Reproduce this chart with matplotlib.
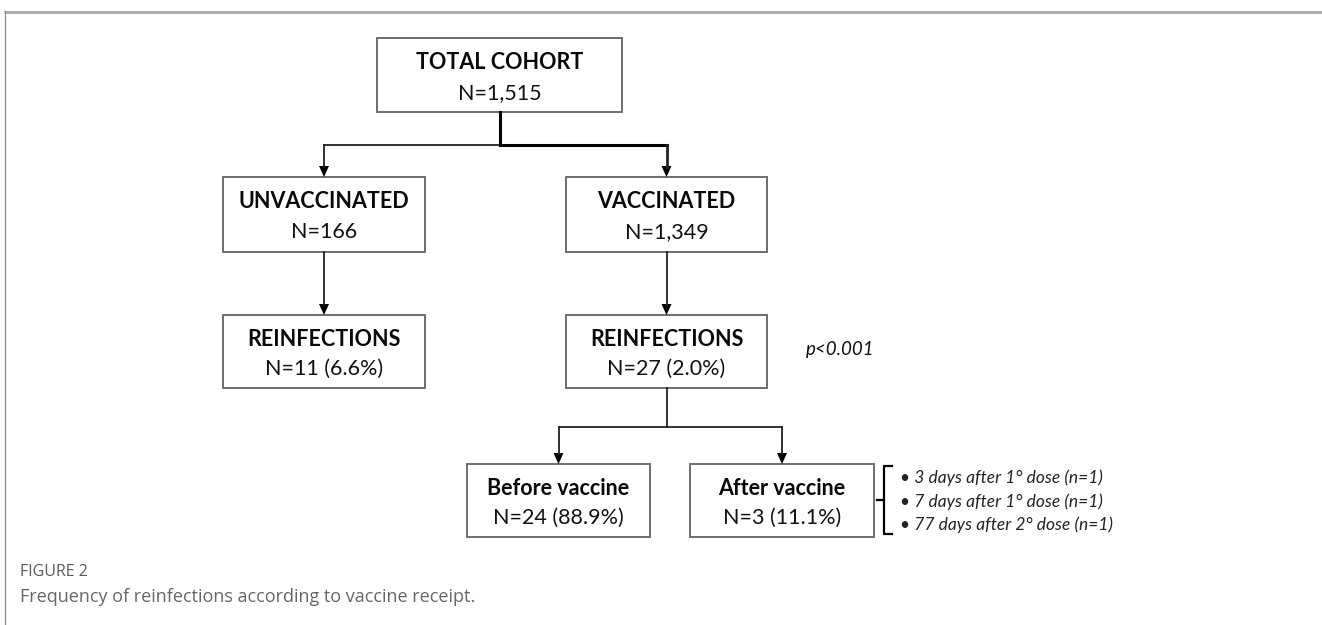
import matplotlib
matplotlib.use('Agg')
import matplotlib.pyplot as plt
from matplotlib.patches import Rectangle, Polygon

# box contents
titles = ['TOTAL COHORT', 'UNVACCINATED', 'VACCINATED', 'REINFECTIONS', 'REINFECTIONS',
          'Before vaccine', 'After vaccine']
counts = ['N=1,515', 'N=166', 'N=1,349', 'N=11 (6.6%)', 'N=27 (2.0%)',
          'N=24 (88.9%)', 'N=3 (11.1%)']
p_value = 'p<0.001'
after_details = ['3 days after 1° dose (n=1)', '7 days after 1° dose (n=1)',
                 '77 days after 2° dose (n=1)']
fig_label = 'FIGURE 2'
caption = 'Frequency of reinfections according to vaccine receipt.'

# layout in pixels: x0, x1, y0, y1
boxes = [
    (377, 622, 38, 112),
    (223, 425, 177, 252),
    (566, 767, 177, 252),
    (223, 425, 315, 388),
    (566, 767, 315, 388),
    (467, 650, 464, 537),
    (690, 874, 464, 537),
]

W, H = 1322, 625
fig = plt.figure(figsize=(W / 100, H / 100), dpi=100)
ax = fig.add_axes([0, 0, 1, 1])
ax.set_xlim(0, W)
ax.set_ylim(H, 0)
ax.axis('off')

FONT = 'Lato'
LINE = '#222222'

# panel frame
ax.plot([4, W], [11.5, 11.5], color='#b0b0b0', lw=2.2, solid_capstyle='butt')
ax.plot([4.5, 4.5], [11, H], color='#8a8a8a', lw=0.9)


def cx(b):
    return (b[0] + b[1]) / 2


def arrow_down(x, y0, y1, lw=1.3):
    ax.plot([x, x], [y0, y1 - 10], color=LINE, lw=lw)
    ax.add_patch(Polygon([[x - 5, y1 - 11], [x + 5, y1 - 11], [x, y1]],
                         closed=True, color='black', lw=0))


for b, t, n in zip(boxes, titles, counts):
    x0, x1, y0, y1 = b
    ax.add_patch(Rectangle((x0, y0), x1 - x0, y1 - y0, fill=False,
                           edgecolor='#6e6e6e', lw=1.4))
    h = y1 - y0
    ax.text(cx(b), y0 + h * 0.33, t, ha='center', va='center', fontsize=15.5,
            fontweight='bold', family=FONT, color='#0a0a0a')
    ax.text(cx(b), y0 + h * 0.74, n, ha='center', va='center', fontsize=15.5,
            family=FONT, color='#111111')

total, unvac, vac, re_u, re_v, before, after = boxes

# total -> unvaccinated / vaccinated
ymid = 145
ax.plot([cx(total), cx(total)], [total[3], ymid], color='black', lw=2.2)
ax.plot([cx(unvac), cx(total)], [ymid, ymid], color=LINE, lw=1.3)
ax.plot([cx(total), cx(vac)], [ymid, ymid], color='black', lw=2.2)
arrow_down(cx(unvac), ymid, unvac[2])
arrow_down(cx(vac), ymid, vac[2], lw=2.0)

# to reinfections
arrow_down(cx(unvac), unvac[3], re_u[2])
arrow_down(cx(vac), vac[3], re_v[2])

# reinfections -> before / after
ymid2 = 427
ax.plot([cx(re_v), cx(re_v)], [re_v[3], ymid2], color=LINE, lw=1.3)
ax.plot([cx(before), cx(after)], [ymid2, ymid2], color=LINE, lw=1.3)
arrow_down(cx(before), ymid2, before[2])
arrow_down(cx(after), ymid2, after[2])

ax.text(806, 350, p_value, ha='left', va='center', fontsize=13.5,
        style='italic', family=FONT, color='#111111')

# bracket next to "after vaccine"
bx = 884
ax.plot([bx + 8, bx, bx, bx + 8], [466, 466, 534, 534], color='black', lw=1.6)
ax.plot([bx - 7, bx], [500, 500], color='black', lw=1.6)
for i, s in enumerate(after_details):
    ax.text(900, 478 + i * 23.5, '• ' + s, ha='left', va='center', fontsize=12.5,
            style='italic', family=FONT, color='#222222')

ax.text(20, 572, fig_label, ha='left', va='center', fontsize=11.5,
        family='Open Sans', color='#5a5a5a')
ax.text(20, 597, caption, ha='left', va='center', fontsize=13,
        family='Open Sans', color='#666666')

fig.savefig('out.png', dpi=100)
